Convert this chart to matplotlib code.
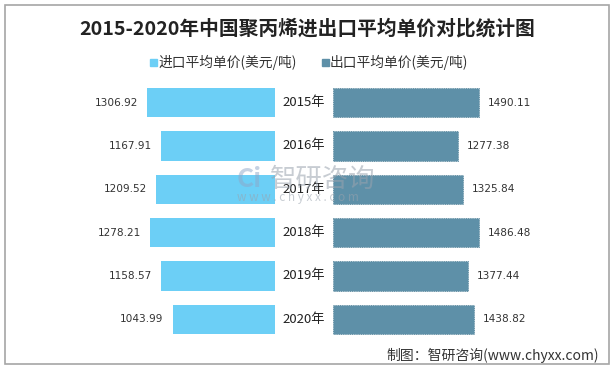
import matplotlib
matplotlib.use("Agg")
import matplotlib.pyplot as plt
from matplotlib.patches import Rectangle

plt.rcParams['font.family'] = ['Noto Sans CJK SC', 'DejaVu Sans']

# data
years = ['2015年', '2016年', '2017年', '2018年', '2019年', '2020年']
import_price = [1306.92, 1167.91, 1209.52, 1278.21, 1158.57, 1043.99]
export_price = [1490.11, 1277.38, 1325.84, 1486.48, 1377.44, 1438.82]

c_imp = '#6CCFF6'
c_exp = '#5E90A8'
txt = '#333333'

W, H = 614, 371
fig = plt.figure(figsize=(W / 100, H / 100), dpi=100)

# gray frame
fig.patches.append(Rectangle((5 / W, (H - 364) / H), 604 / W, 359 / H,
                             transform=fig.transFigure, fill=False,
                             edgecolor='#A6A6A6', linewidth=1.2))

# axes: left one for imports (reversed), right one for exports
bottom = (H - 341) / H
height = 260 / H
px = 0.098  # pixels per unit
ax_l = fig.add_axes([20 / W, bottom, 255 / W, height])
ax_r = fig.add_axes([333 / W, bottom, 267 / W, height])
ax_l.set_xlim(255 / px, 0)
ax_r.set_xlim(0, 267 / px)

y = range(len(years))
ax_l.barh(y, import_price, height=0.67, color=c_imp)
ax_r.barh(y, export_price, height=0.67, color=c_exp, edgecolor='#4F7F95',
          linewidth=0.6, linestyle=':')

for ax in (ax_l, ax_r):
    ax.set_ylim(5.5, -0.5)
    ax.axis('off')

for i, v in enumerate(import_price):
    ax_l.text(v + 9 / px, i, f'{v:.2f}', ha='right', va='center',
              fontsize=7.6, color=txt, family='DejaVu Sans')
for i, v in enumerate(export_price):
    ax_r.text(v + 9 / px, i, f'{v:.2f}', ha='left', va='center',
              fontsize=7.6, color=txt, family='DejaVu Sans')
for i, yr in enumerate(years):
    ax_r.text(-29 / px, i, yr, ha='center', va='center', fontsize=9.5,
              color='#222222', clip_on=False)

# title
fig.text(307 / W, 1 - 29 / H, '2015-2020年中国聚丙烯进出口平均单价对比统计图',
         ha='center', va='center', fontsize=14.2, fontweight='bold', color='#222222')

# legend
ly = 1 - 62 / H
fig.patches.append(Rectangle((150 / W, ly - 3.5 / H), 7 / W, 7 / H,
                             transform=fig.transFigure, color=c_imp))
fig.text(158 / W, ly, '进口平均单价(美元/吨)', ha='left', va='center',
         fontsize=9.9, color=txt)
fig.patches.append(Rectangle((322 / W, ly - 3.5 / H), 7 / W, 7 / H,
                             transform=fig.transFigure, color=c_exp))
fig.text(330 / W, ly, '出口平均单价(美元/吨)', ha='left', va='center',
         fontsize=9.9, color=txt)

# watermark
fig.text(270 / W, 1 - 179 / H, '智研咨询', ha='left', va='center',
         fontsize=19, color='#9AA3AE', alpha=0.55)
fig.text(237 / W, 1 - 198 / H, 'w w w . c h y x x . c o m', ha='left', va='center',
         fontsize=8.5, color='#9AA3AE', alpha=0.55)
fig.text(237 / W, 1 - 179 / H, 'Ci', ha='left', va='center',
         fontsize=19, fontweight='bold', color='#8FA6C8', alpha=0.5)

# source
fig.text(599 / W, 1 - 355 / H, '制图：智研咨询(www.chyxx.com)', ha='right',
         va='center', fontsize=10, color=txt)

fig.savefig('out.png', dpi=100)
